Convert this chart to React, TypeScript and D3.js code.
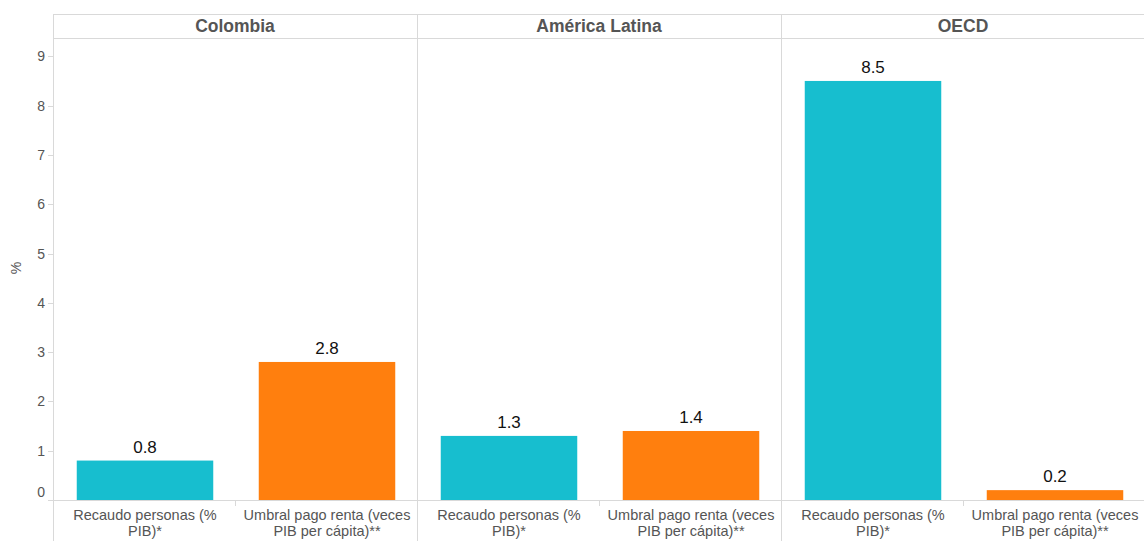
import * as d3 from 'd3';

const panels = ['Colombia', 'América Latina', 'OECD'];
const categories = ['Recaudo personas (% PIB)*', 'Umbral pago renta (veces PIB per cápita)**'];
const categoryLines = [
  ['Recaudo personas (%', 'PIB)*'],
  ['Umbral pago renta (veces', 'PIB per cápita)**'],
];
const recaudo = [0.8, 1.3, 8.5];
const umbral = [2.8, 1.4, 0.2];
const yTicks = [0, 1, 2, 3, 4, 5, 6, 7, 8, 9];

const W = 1144;
const H = 541;
const FONT = '"Liberation Sans", Arial, Helvetica, sans-serif';
const colors = ['#17becf', '#ff7f0e'];
const gridColor = '#d9d9d9';
const textColor = '#555555';

export default function App() {
  const left = 53;
  const headerTop = 14;
  const headerBottom = 38;
  const baseline = 500;

  // one band per facet, then two category bands inside each facet
  const x = d3.scaleBand<string>().domain(panels).range([left, W + 1]);
  const xc = d3
    .scaleBand<string>()
    .domain(categories)
    .range([0, x.bandwidth()])
    .paddingInner(0.25)
    .paddingOuter(0.125);
  const y = d3.scaleLinear().domain([0, 9]).range([baseline, baseline - 9 * 49.3]);

  const values = [recaudo, umbral];
  const midTick = Math.round(xc.step()) + 0.5;

  return (
    <svg
      width={W}
      height={H}
      style={{ position: 'absolute', left: 0, top: 0, background: '#fff' }}
      fontFamily={FONT}
    >
      {/* header band lines */}
      <line x1={left} x2={W} y1={headerTop + 0.5} y2={headerTop + 0.5} stroke={gridColor} />
      <line x1={left} x2={W} y1={headerBottom + 0.5} y2={headerBottom + 0.5} stroke={gridColor} />

      {/* left axis */}
      <line x1={left + 0.5} x2={left + 0.5} y1={headerTop} y2={H} stroke={gridColor} />

      {/* panel dividers */}
      {panels.slice(1).map(p => (
        <line
          key={p}
          x1={Math.round(x(p) || 0) + 0.5}
          x2={Math.round(x(p) || 0) + 0.5}
          y1={headerTop}
          y2={H}
          stroke={gridColor}
        />
      ))}

      {/* panel headers */}
      {panels.map(p => (
        <text
          key={p}
          x={(x(p) || 0) + x.bandwidth() / 2}
          y={32}
          textAnchor="middle"
          fontSize={17.5}
          fontWeight="bold"
          fill={textColor}
        >
          {p}
        </text>
      ))}

      {/* y ticks */}
      {yTicks.map(t => (
        <g key={t}>
          <line x1={left - 5} x2={left} y1={Math.round(y(t)) + 0.5} y2={Math.round(y(t)) + 0.5} stroke={gridColor} />
          <text
            x={left - 8}
            y={(t === 0 ? y(t) - 8 : y(t)) + 5}
            textAnchor="end"
            fontSize={14}
            fill={textColor}
          >
            {t}
          </text>
        </g>
      ))}
      <text
        transform={`translate(21,${268}) rotate(-90)`}
        textAnchor="middle"
        fontSize={14}
        fill={textColor}
      >
        %
      </text>

      {/* baseline */}
      <line x1={left - 5} x2={W} y1={baseline + 0.5} y2={baseline + 0.5} stroke={gridColor} />

      {panels.map((p, pi) => {
        const px = x(p) || 0;
        return (
          <g key={p} transform={`translate(${px},0)`}>
            <line x1={midTick} x2={midTick} y1={baseline} y2={baseline + 6} stroke={gridColor} />
            {categories.map((c, ci) => {
              const v = values[ci][pi];
              const bx = xc(c) || 0;
              const cx = bx + xc.bandwidth() / 2;
              return (
                <g key={c}>
                  <rect
                    x={bx + 1}
                    y={y(v)}
                    width={xc.bandwidth()}
                    height={baseline - y(v)}
                    fill={colors[ci]}
                  />
                  <text
                    x={cx + 1}
                    y={y(v) - 8}
                    textAnchor="middle"
                    fontSize={17}
                    fill="#111"
                  >
                    {d3.format('.1f')(v)}
                  </text>
                  {categoryLines[ci].map((ln, li) => (
                    <text
                      key={li}
                      x={cx + 1}
                      y={520 + li * 16}
                      textAnchor="middle"
                      fontSize={14.5}
                      fill={textColor}
                    >
                      {ln}
                    </text>
                  ))}
                </g>
              );
            })}
          </g>
        );
      })}
    </svg>
  );
}
